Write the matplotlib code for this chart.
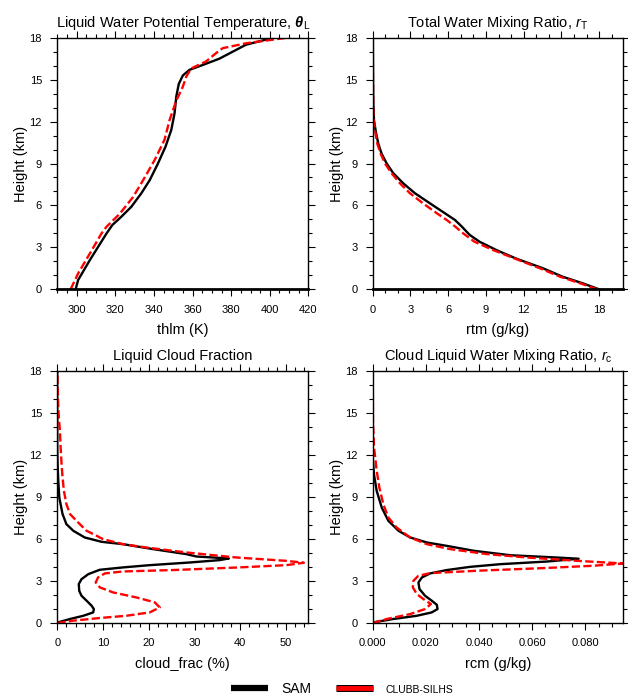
import matplotlib
matplotlib.use('Agg')
import matplotlib.pyplot as plt
import matplotlib.ticker as mticker
import matplotlib.patheffects as pe
from matplotlib.lines import Line2D

plt.rcParams['font.family'] = ['Liberation Sans', 'DejaVu Sans']
plt.rcParams['mathtext.fontset'] = 'custom'
plt.rcParams['mathtext.rm'] = 'Liberation Sans'
plt.rcParams['mathtext.it'] = 'Liberation Sans:italic'
plt.rcParams['mathtext.bf'] = 'Liberation Sans:bold:italic'

# ---- data (height in km) ----
thlm_sam_z = [0, 0.67, 2.1, 3.05, 4.0, 4.6, 5.2, 5.9, 6.87, 7.8, 9.0, 10.2, 11.4, 12.6,
              13.8, 14.7, 15.3, 15.7, 16.05, 16.5, 17.0, 17.5, 17.8, 18.0]
thlm_sam = [299.5, 300.8, 306.9, 311.2, 315.5, 318.5, 323.2, 328.3, 333.5, 337.8, 342.1,
            346.0, 349.0, 350.7, 351.6, 352.9, 355.0, 358.4, 365.3, 373.9, 380.8, 387.7,
            396.3, 401.4]
thlm_clubb_z = [0, 1.14, 2.57, 4.0, 4.48, 5.4, 6.6, 7.8, 9.25, 10.7, 12.1, 13.5, 14.5,
                15.2, 15.8, 16.3, 16.9, 17.25, 17.6, 18.0]
thlm_clubb = [296.9, 300.8, 306.9, 312.9, 315.5, 322.3, 329.2, 334.4, 340.4, 345.5, 348.1,
              351.6, 355.0, 356.7, 359.3, 367.0, 372.2, 375.6, 387.7, 409.0]

rtm_sam_z = [0, 0.43, 0.9, 1.5, 2.2, 2.8, 3.4, 3.9, 4.5, 4.96, 5.44, 6.15, 6.87, 7.58,
             8.3, 9.0, 9.7, 10.4, 11.2, 12.1, 13.3, 14.5, 18.0]
rtm_sam = [18.0, 16.7, 15.1, 13.55, 11.4, 9.85, 8.5, 7.7, 7.07, 6.54, 5.74, 4.55, 3.36,
           2.43, 1.64, 1.11, 0.71, 0.45, 0.26, 0.1, 0.05, 0.03, 0.01]
rtm_clubb_z = [0, 0.43, 0.9, 1.5, 2.2, 2.8, 3.4, 4.0, 4.5, 4.96, 5.44, 6.15, 6.87, 7.58,
               8.3, 9.0, 9.7, 10.4, 11.2, 12.1, 13.3, 18.0]
rtm_clubb = [17.85, 16.5, 14.9, 13.3, 11.3, 9.6, 8.1, 7.2, 6.54, 5.88, 5.1, 4.0, 2.96,
             2.17, 1.5, 0.98, 0.63, 0.37, 0.21, 0.08, 0.03, 0.0]

cf_sam_z = [0, 0.05, 0.29, 0.52, 0.76, 1.0, 1.24, 1.6, 1.95, 2.3, 2.79, 3.14, 3.5, 3.81,
            3.98, 4.14, 4.33, 4.5, 4.62, 4.76, 4.93, 5.29, 5.64, 5.81, 6.12, 6.6, 7.07,
            7.79, 8.98, 10.17, 11.36, 12.5, 18.0]
cf_sam = [0, 0.2, 2.8, 5.7, 7.85, 8.0, 7.5, 6.4, 5.3, 4.8, 4.7, 5.3, 6.8, 9.3, 14.4, 20.2,
          28.9, 35.5, 37.5, 30.4, 28.2, 20.9, 14.4, 9.7, 6.0, 3.5, 2.0, 1.16, 0.44, 0.22,
          0.07, 0.0, 0.0]
cf_clubb_z = [0, 0.17, 0.36, 0.52, 0.76, 1.12, 1.48, 1.83, 2.19, 2.55, 2.9, 3.26, 3.55,
              3.69, 3.79, 3.98, 4.14, 4.31, 4.45, 4.69, 5.05, 5.4, 5.64, 6.0, 6.24, 6.6,
              7.31, 7.79, 8.5, 9.45, 10.4, 11.36, 12.55, 13.74, 14.9, 16.1, 18.0]
cf_clubb = [0, 3.5, 9.3, 15.1, 20.2, 22.4, 21.3, 17.3, 12.2, 9.3, 8.4, 8.9, 10.4, 14.4,
            25.3, 39.8, 50.0, 53.9, 50.0, 39.1, 28.2, 19.5, 14.4, 10.0, 8.6, 6.4, 4.2,
            2.8, 2.0, 1.45, 1.16, 0.94, 0.73, 0.58, 0.3, 0.15, 0.0]

rcm_sam_z = [0, 0.05, 0.29, 0.52, 0.76, 1.0, 1.31, 1.6, 1.95, 2.43, 2.9, 3.26, 3.55,
             3.79, 4.02, 4.21, 4.4, 4.6, 4.68, 4.85, 5.17, 5.52, 5.76, 6.12, 6.6, 7.31,
             8.26, 9.45, 10.6, 11.8, 18.0]
rcm_sam = [0, 0.0003, 0.0078, 0.0166, 0.0222, 0.0244, 0.0241, 0.0222, 0.0197, 0.0176,
           0.0172, 0.0185, 0.0216, 0.0279, 0.0367, 0.048, 0.0656, 0.0775, 0.0700, 0.0518,
           0.038, 0.0279, 0.0204, 0.0141, 0.0097, 0.0059, 0.0034, 0.0015, 0.0005, 0.0, 0.0]
rcm_clubb_z = [0, 0.29, 0.64, 1.0, 1.36, 1.71, 2.07, 2.55, 3.02, 3.38, 3.57, 3.74, 3.93,
               4.1, 4.26, 4.45, 4.69, 4.93, 5.29, 5.64, 6.12, 6.83, 7.55, 8.5, 9.69,
               10.9, 12.55, 14.45, 18.0]
rcm_clubb = [0, 0.0053, 0.0141, 0.0197, 0.0219, 0.0191, 0.0166, 0.0151, 0.0153, 0.0172,
             0.0216, 0.0392, 0.0643, 0.0832, 0.0942, 0.0769, 0.058, 0.043, 0.0291,
             0.0204, 0.0141, 0.009, 0.0059, 0.004, 0.0025, 0.0015, 0.0005, 0.0001, 0.0]

titles = ['Liquid Water Potential Temperature, $\\mathbf{\\theta}_{\\mathrm{L}}$',
          'Total Water Mixing Ratio, $r_{\\mathrm{T}}$',
          'Liquid Cloud Fraction',
          'Cloud Liquid Water Mixing Ratio, $r_{\\mathrm{c}}$']
xlabels = ['thlm (K)', 'rtm (g/kg)', 'cloud_frac (%)', 'rcm (g/kg)']

fig = plt.figure(figsize=(6.28, 6.98), dpi=100)

W = 0.4
H = 0.3605
boxes = [[0.0912, 0.5855, W, H], [0.5935, 0.5855, 0.3986, H],
         [0.0912, 0.1074, W, H], [0.5935, 0.1074, 0.3986, H]]

panels = [
    (thlm_sam, thlm_sam_z, thlm_clubb, thlm_clubb_z, (290, 420), 20, 5, '%d'),
    (rtm_sam, rtm_sam_z, rtm_clubb, rtm_clubb_z, (0, 19.9), 3, 1, '%d'),
    (cf_sam, cf_sam_z, cf_clubb, cf_clubb_z, (0, 54.9), 10, 2, '%d'),
    (rcm_sam, rcm_sam_z, rcm_clubb, rcm_clubb_z, (0, 0.0942), 0.02, 0.005, '%.3f'),
]

for i, (xs, zs, xc, zc, xlim, maj, mnr, fmt) in enumerate(panels):
    ax = fig.add_axes(boxes[i])
    ax.plot(xs, zs, color='black', lw=1.7, solid_joinstyle='round')
    ax.plot(xc, zc, color='red', lw=1.7, ls=(0, (3.5, 1.4)))
    ax.set_xlim(*xlim)
    ax.set_ylim(0, 18)
    ax.xaxis.set_major_locator(mticker.MultipleLocator(maj))
    ax.xaxis.set_minor_locator(mticker.MultipleLocator(mnr))
    ax.xaxis.set_major_formatter(mticker.FormatStrFormatter(fmt))
    ax.yaxis.set_major_locator(mticker.MultipleLocator(3))
    ax.yaxis.set_minor_locator(mticker.MultipleLocator(1))
    ax.tick_params(which='both', direction='out', top=True, right=True,
                   labelsize=8, width=0.8, pad=6)
    ax.tick_params(which='major', length=5)
    ax.tick_params(which='minor', length=3)
    for s in ax.spines.values():
        s.set_linewidth(1.0)
    if i < 2:
        ax.spines['bottom'].set_linewidth(2.0)
    ax.set_title(titles[i], fontsize=10.5, pad=8)
    ax.set_xlabel(xlabels[i], fontsize=10.5, labelpad=6)
    ax.set_ylabel('Height (km)', fontsize=10.5, labelpad=1)

h_sam = Line2D([], [], color='black', lw=4.5, solid_capstyle='butt')
h_clubb = Line2D([], [], color='red', lw=3.5, solid_capstyle='butt',
                 path_effects=[pe.Stroke(linewidth=5, foreground='black'), pe.Normal()])
leg = fig.legend([h_sam, h_clubb], ['SAM', 'CLUBB-SILHS'], ncol=2, loc='center',
                 bbox_to_anchor=(0.545, 0.013), frameon=False, handlelength=2.7,
                 handletextpad=0.9, columnspacing=1.8, fontsize=10)
leg.get_texts()[1].set_fontsize(7.5)

fig.savefig('out.png', dpi=100)
